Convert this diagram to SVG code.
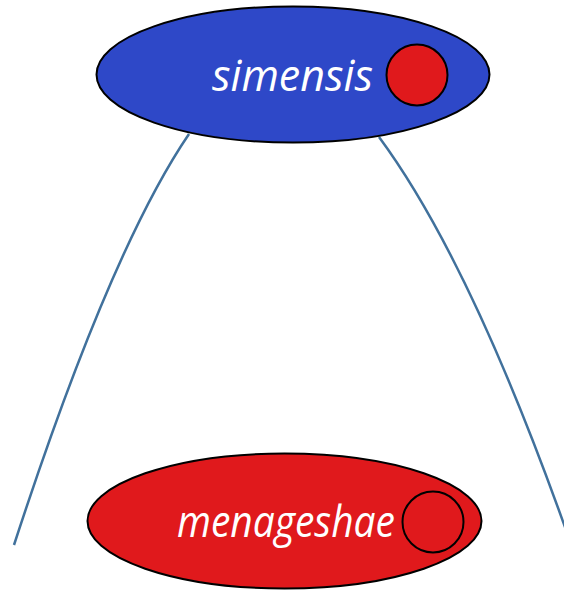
<svg xmlns="http://www.w3.org/2000/svg" width="564" height="590" viewBox="0 0 564 590">
<style>
.edge{fill:none;stroke:#41719C;stroke-width:2.5}
.node{stroke:#000;stroke-width:2}
.lbl{font-family:"Open Sans","Liberation Sans",sans-serif;font-style:italic;font-size:44px;fill:#fff}
</style>
<rect width="564" height="590" fill="#fff"/>
<g id="connectors">
<path class="edge" d="M189,134 Q110,250 14,545"/>
<path class="edge" d="M379,137 Q470,260 566,530"/>
</g>
<g id="simensis">
<ellipse class="node" cx="293" cy="74.5" rx="196.5" ry="68" fill="#2E48C8"/>
<text class="lbl" x="212" y="91" textLength="161" lengthAdjust="spacingAndGlyphs">simensis</text>
<circle class="node" cx="417" cy="75" r="30.5" fill="#E0191C"/>
</g>
<g id="menageshae">
<ellipse class="node" cx="284.5" cy="521" rx="197" ry="67.5" fill="#E0191C"/>
<text class="lbl" x="177" y="537" textLength="218" lengthAdjust="spacingAndGlyphs">menageshae</text>
<circle class="node" cx="433" cy="522" r="30.5" fill="#E0191C"/>
</g>
</svg>
